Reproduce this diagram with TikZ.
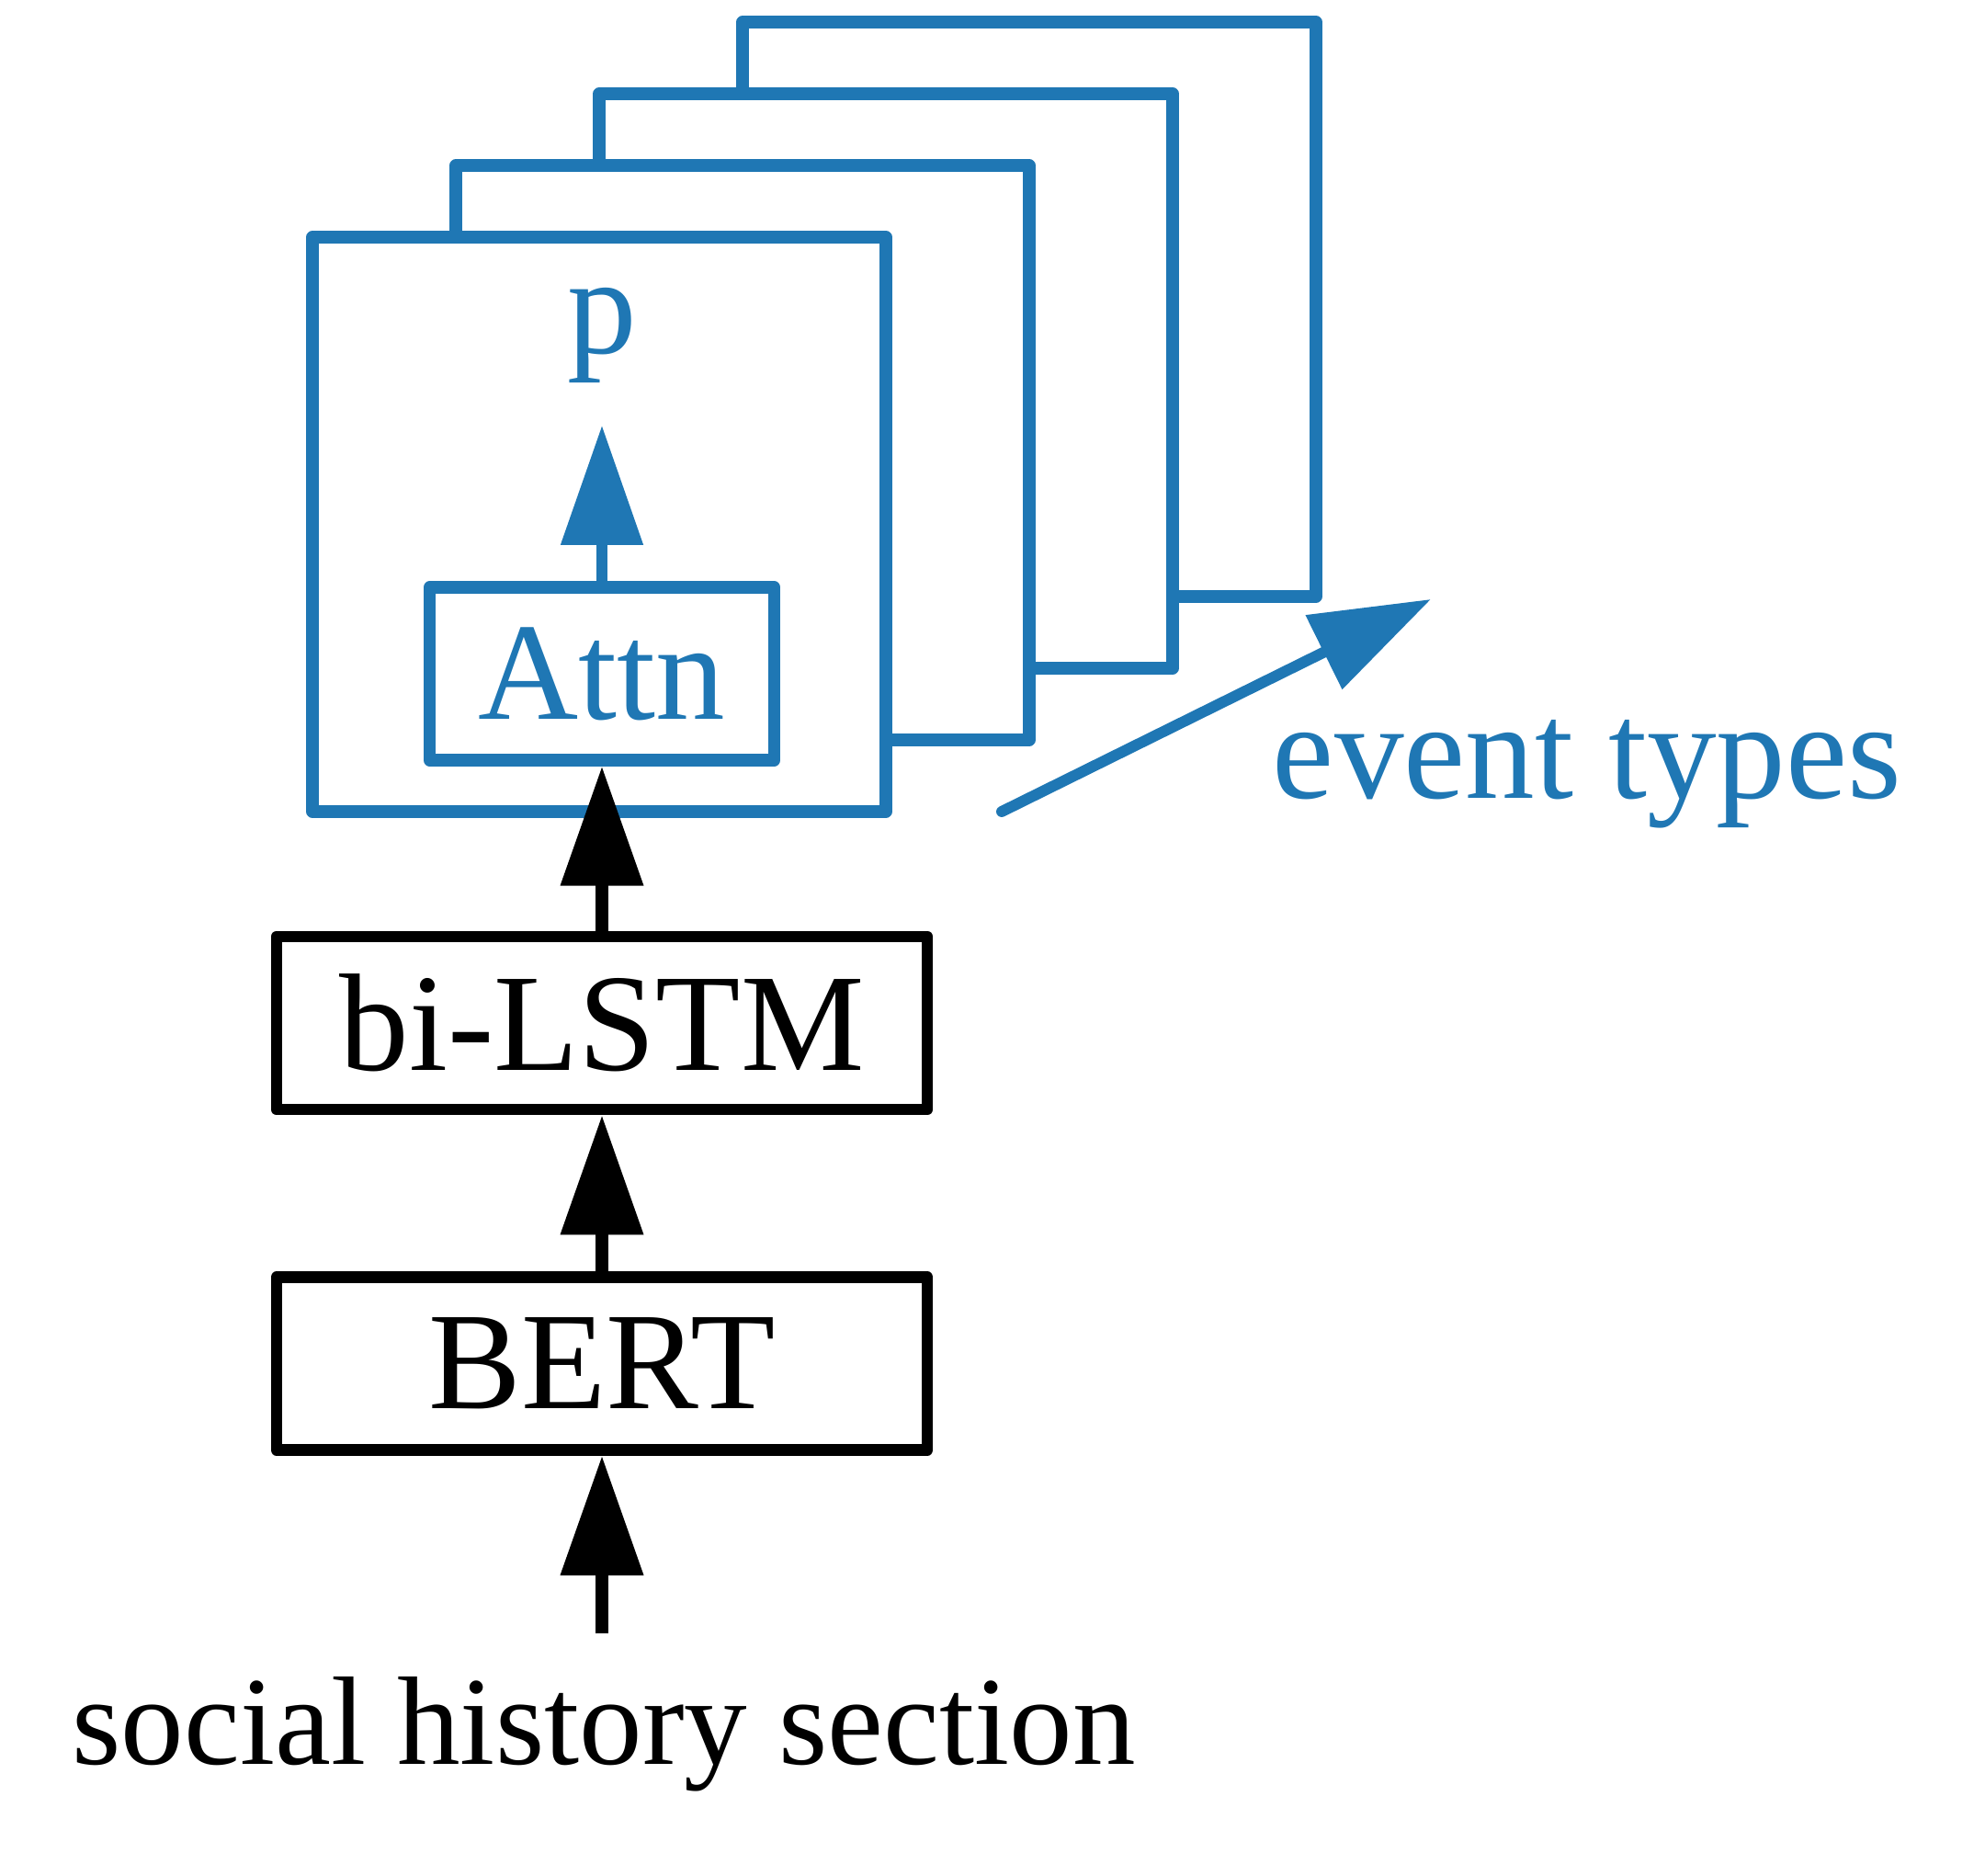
\documentclass[tikz,border=0pt]{standalone}
\usepackage{fontspec}
\setmainfont{Liberation Serif}
\usetikzlibrary{arrows.meta}
\definecolor{tabblue}{RGB}{31,119,180}

\begin{document}
\begin{tikzpicture}[
    box/.style={draw, line width=3.6pt, line join=round, fill=white, inner sep=0pt,
        minimum width=7.08cm, minimum height=1.88cm, font=\fontsize{43}{50}\selectfont},
    layer/.style={draw=tabblue, line width=3.8pt, line join=round, fill=white},
    flow/.style={line width=4pt, -{Triangle[length=1.3cm, width=0.87cm]}},
    bflow/.style={flow, draw=tabblue, fill=tabblue, line width=3.4pt}
]
\useasboundingbox (0,0) rectangle (21.6,20.4);
% stack of event type layers, back to front
\foreach \i in {3,2,1}
    \draw[layer] (3.40+1.56*\i, 11.57+0.78*\i) rectangle (9.64+1.56*\i, 17.82+0.78*\i);
\node[layer, inner sep=0pt, minimum width=6.24cm, minimum height=6.25cm] (frame) at (6.52,14.695) {};

% boxes and labels
\node[box, draw=tabblue, text=tabblue, line width=3.8pt, minimum width=3.75cm] (attn) at (6.55,13.07) {Attn};
\node[text=tabblue, font=\fontsize{43}{50}\selectfont, anchor=base] (prob) at (6.55,16.55) {p};
\node[box] (lstm) at (6.55,9.27) {bi-LSTM};
\node[box] (bert) at (6.55,5.565) {BERT};
\node[font=\fontsize{39}{45}\selectfont, anchor=base] (input) at (6.57,1.21) {social history section};
\node[text=tabblue, font=\fontsize{43}{50}\selectfont, anchor=base] (types) at (17.27,11.71) {event types};

% connectors
\coordinate (src) at (6.55,2.63);
\draw[flow] (src) -- (bert);
\draw[flow] (bert) -- (lstm);
\draw[flow] (lstm) -- (attn);
\coordinate (probtip) at (6.55,15.77);
\draw[bflow] (attn.north) -- (probtip);
\coordinate (depth) at (10.90,11.57);
\coordinate (depthtip) at (15.57,13.88);
\draw[bflow, line cap=round] (depth) -- (depthtip);
\end{tikzpicture}
\end{document}
